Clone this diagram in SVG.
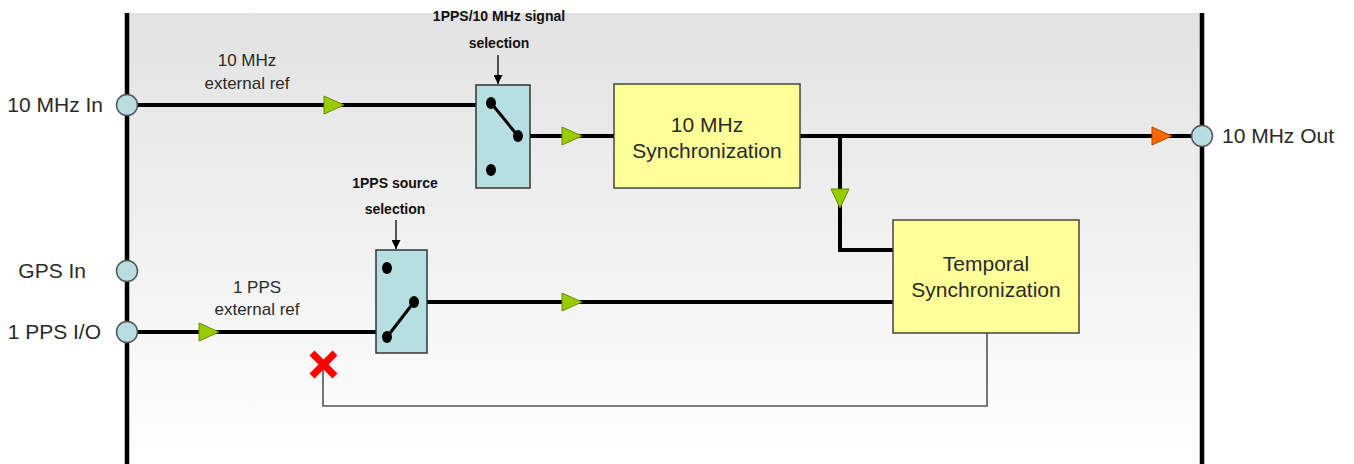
<svg xmlns="http://www.w3.org/2000/svg" width="1354" height="464" viewBox="0 0 1354 464">
<defs>
<linearGradient id="bg" x1="0" y1="0" x2="0" y2="1">
<stop offset="0" stop-color="#e2e2e2"/>
<stop offset="1" stop-color="#ffffff"/>
</linearGradient>
<marker id="ah" viewBox="0 0 10 10" refX="10" refY="5" markerWidth="9" markerHeight="9" markerUnits="userSpaceOnUse" orient="auto">
<path d="M0,0 L10,5 L0,10 z" fill="#000"/>
</marker>
</defs>
<style>
.wire{stroke:#000;stroke-width:4;fill:none}
.thin{stroke:#555;stroke-width:1.6;fill:none}
.port{fill:#b7dde1;stroke:#555;stroke-width:1.5}
.sw{fill:#b7dfe2;stroke:#333;stroke-width:1.5}
.box{fill:#ffff99;stroke:#444;stroke-width:1.5}
.dot{fill:#000}
.tg{fill:#99cc00;stroke:#6a8c00;stroke-width:1}
.to{fill:#ff6600;stroke:#b34700;stroke-width:1}
.lbl{font-family:"Liberation Sans",Arial,sans-serif;font-size:21px;fill:#2a2a2a}
.sm{font-family:"Liberation Sans",Arial,sans-serif;font-size:17px;fill:#2a2a2a;text-anchor:middle}
.bold{font-family:"Liberation Sans",Arial,sans-serif;font-size:14px;font-weight:bold;fill:#111;text-anchor:middle}
.bt{font-family:"Liberation Sans",Arial,sans-serif;font-size:21px;fill:#2a2a2a;text-anchor:middle}
</style>
<rect x="127" y="13" width="1075" height="451" fill="url(#bg)"/>
<g id="connectors">
<line class="wire" x1="127" y1="105" x2="476" y2="105"/>
<line class="wire" x1="530" y1="136" x2="614" y2="136"/>
<polyline class="wire" points="800,136 1202,136"/>
<polyline class="wire" points="840,136 840,250 893,250"/>
<line class="wire" x1="127" y1="332" x2="376" y2="332"/>
<line class="wire" x1="427" y1="302" x2="893" y2="302"/>
<polyline class="thin" points="987,333 987,406 323,406 323,370"/>
<line x1="498" y1="55" x2="498" y2="84" stroke="#000" stroke-width="1.3" marker-end="url(#ah)"/>
<line x1="396" y1="220" x2="396" y2="249" stroke="#000" stroke-width="1.3" marker-end="url(#ah)"/>
<path class="tg" d="M324,96 L344,105 L324,114 z"/>
<path class="tg" d="M562,127 L582,136 L562,145 z"/>
<path class="to" d="M1152,127 L1172,136 L1152,145 z"/>
<path class="tg" d="M831,189 L849,189 L840,208 z"/>
<path class="tg" d="M199,323 L219,332 L199,341 z"/>
<path class="tg" d="M562,293 L582,302 L562,311 z"/>
<g stroke="#ff0000" stroke-width="7" stroke-linecap="butt">
<line x1="312" y1="353" x2="335" y2="376"/>
<line x1="335" y1="353" x2="312" y2="376"/>
</g>
</g>
<g id="frame">
<line x1="127" y1="13" x2="127" y2="464" stroke="#000" stroke-width="4.5"/>
<line x1="1202" y1="13" x2="1202" y2="464" stroke="#000" stroke-width="4.5"/>
</g>
<g id="port-10mhz-in">
<circle class="port" cx="127" cy="105" r="10.5"/>
<text class="lbl" x="103" y="112" text-anchor="end">10 MHz In</text>
</g>
<g id="port-gps-in">
<circle class="port" cx="127" cy="271" r="10.5"/>
<text class="lbl" x="86" y="278" text-anchor="end">GPS In</text>
</g>
<g id="port-1pps-io">
<circle class="port" cx="127" cy="332" r="10.5"/>
<text class="lbl" x="101" y="339" text-anchor="end">1 PPS I/O</text>
</g>
<g id="port-10mhz-out">
<circle class="port" cx="1202" cy="136" r="10.5"/>
<text class="lbl" x="1222" y="143">10 MHz Out</text>
</g>
<g id="label-10mhz-ext">
<text class="sm" x="247" y="66">10 MHz</text>
<text class="sm" x="247" y="89">external ref</text>
</g>
<g id="label-1pps-ext">
<text class="sm" x="257" y="293">1 PPS</text>
<text class="sm" x="257" y="315">external ref</text>
</g>
<g id="switch-signal">
<text class="bold" x="499" y="21">1PPS/10 MHz signal</text>
<text class="bold" x="499" y="48">selection</text>
<rect class="sw" x="476" y="85" width="54" height="103"/>
<line x1="491" y1="103" x2="518" y2="136" stroke="#000" stroke-width="3"/>
<ellipse class="dot" cx="491" cy="103" rx="5" ry="6"/>
<ellipse class="dot" cx="518" cy="136" rx="5" ry="6"/>
<ellipse class="dot" cx="491" cy="170" rx="5" ry="6"/>
</g>
<g id="switch-1pps">
<text class="bold" x="395" y="188">1PPS source</text>
<text class="bold" x="395" y="214">selection</text>
<rect class="sw" x="376" y="250" width="51" height="103"/>
<line x1="387" y1="337" x2="414" y2="302" stroke="#000" stroke-width="3"/>
<ellipse class="dot" cx="387" cy="268" rx="5" ry="6"/>
<ellipse class="dot" cx="414" cy="302" rx="5" ry="6"/>
<ellipse class="dot" cx="387" cy="337" rx="5" ry="6"/>
</g>
<g id="sync-10mhz">
<rect class="box" x="614" y="84" width="186" height="104"/>
<text class="bt" x="707" y="132">10 MHz</text>
<text class="bt" x="707" y="158">Synchronization</text>
</g>
<g id="sync-temporal">
<rect class="box" x="893" y="220" width="186" height="113"/>
<text class="bt" x="986" y="271">Temporal</text>
<text class="bt" x="986" y="297">Synchronization</text>
</g>
</svg>
